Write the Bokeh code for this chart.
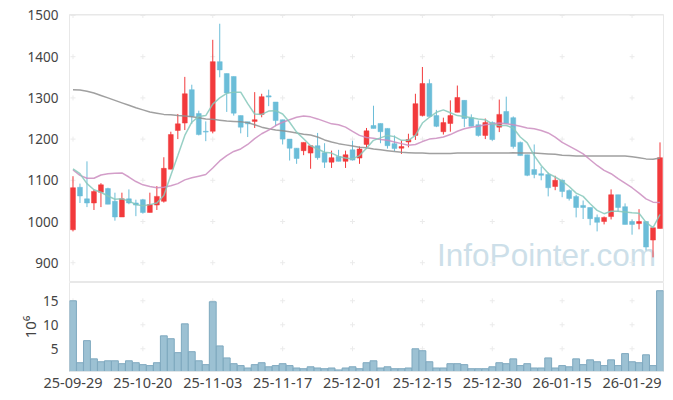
from bokeh.embed import file_html
from bokeh.layouts import column
from bokeh.models import FixedTicker, Label, Range1d, Span
from bokeh.plotting import figure
from bokeh.resources import INLINE

## Data

tick_index = [0, 10, 20, 30, 40, 50, 60, 70, 80]
tick_dates = ["25-09-29", "25-10-20", "25-11-03", "25-11-17", "25-12-01",
              "25-12-15", "25-12-30", "26-01-15", "26-01-29"]
price_ticks = [900, 1000, 1100, 1200, 1300, 1400, 1500]
volume_ticks = [5, 10, 15]

opens = [980, 1083, 1055, 1045, 1071, 1080, 1049, 1011, 1055, 1045,
         1053, 1022, 1040, 1049, 1127, 1221, 1239, 1320, 1262, 1219,
         1219, 1388, 1359, 1352, 1257, 1242, 1243, 1260, 1305, 1290,
         1247, 1200, 1178, 1172, 1166, 1184, 1167, 1144, 1158, 1146,
         1174, 1154, 1187, 1233, 1238, 1226, 1189, 1178, 1193, 1209,
         1257, 1335, 1257, 1218, 1238, 1265, 1294, 1252, 1235, 1209,
         1240, 1229, 1267, 1252, 1192, 1162, 1126, 1116, 1114, 1085,
         1100, 1075, 1061, 1039, 1034, 1010, 1000, 1012, 1065, 1036,
         1000, 995, 1000, 955, 983]
closes = [1082, 1062, 1045, 1073, 1089, 1042, 1011, 1055, 1045, 1040,
          1022, 1041, 1061, 1129, 1211, 1237, 1310, 1255, 1211, 1217,
          1388, 1368, 1312, 1263, 1229, 1237, 1247, 1303, 1302, 1245,
          1200, 1178, 1153, 1192, 1184, 1155, 1144, 1155, 1146, 1162,
          1149, 1176, 1220, 1226, 1218, 1184, 1177, 1182, 1199, 1286,
          1335, 1255, 1231, 1240, 1257, 1301, 1250, 1231, 1209, 1240,
          1199, 1260, 1238, 1182, 1160, 1112, 1114, 1112, 1082, 1100,
          1073, 1056, 1034, 1034, 1007, 998, 1010, 1065, 1034, 993,
          993, 1000, 938, 985, 1155]
highs = [1110, 1092, 1146, 1077, 1093, 1082, 1070, 1070, 1078, 1053,
         1055, 1070, 1086, 1156, 1218, 1261, 1351, 1332, 1269, 1243,
         1441, 1480, 1359, 1352, 1257, 1242, 1314, 1310, 1320, 1290,
         1247, 1200, 1178, 1192, 1184, 1215, 1190, 1172, 1174, 1172,
         1196, 1182, 1227, 1281, 1238, 1226, 1209, 1197, 1213, 1310,
         1375, 1345, 1271, 1252, 1294, 1330, 1294, 1260, 1245, 1250,
         1243, 1296, 1303, 1255, 1194, 1162, 1187, 1133, 1119, 1111,
         1102, 1078, 1065, 1051, 1034, 1017, 1012, 1078, 1065, 1044,
         1005, 1030, 1000, 985, 1192]
lows = [976, 1045, 1035, 1028, 1035, 1042, 1002, 1011, 1042, 1013,
        1019, 1022, 1028, 1046, 1127, 1200, 1222, 1237, 1209, 1195,
        1214, 1350, 1266, 1257, 1214, 1205, 1227, 1253, 1280, 1231,
        1187, 1148, 1140, 1161, 1128, 1150, 1130, 1130, 1146, 1130,
        1148, 1140, 1177, 1226, 1190, 1177, 1171, 1164, 1180, 1198,
        1255, 1255, 1229, 1211, 1218, 1265, 1229, 1231, 1206, 1200,
        1196, 1217, 1238, 1177, 1160, 1110, 1105, 1100, 1061, 1076,
        1059, 1051, 1010, 1006, 991, 976, 993, 1005, 1024, 993,
        968, 981, 930, 913, 983]

ma_teal = [1128, 1116, 1092, 1077, 1071, 1062, 1054, 1055, 1050, 1041,
           1038, 1041, 1045, 1063, 1112, 1160, 1209, 1241, 1255, 1257,
           1285, 1300, 1311, 1314, 1314, 1286, 1261, 1260, 1268, 1269,
           1261, 1241, 1217, 1201, 1184, 1176, 1168, 1166, 1158, 1154,
           1152, 1160, 1178, 1197, 1203, 1209, 1206, 1197, 1197, 1209,
           1239, 1253, 1265, 1271, 1264, 1257, 1255, 1252, 1249, 1247,
           1237, 1233, 1233, 1227, 1205, 1191, 1160, 1136, 1117, 1108,
           1098, 1085, 1069, 1061, 1043, 1027, 1019, 1025, 1025, 1023,
           1021, 1020, 998, 985, 1017]
ma_purple = [1125, 1112, 1105, 1105, 1113, 1116, 1117, 1118, 1108, 1097,
             1089, 1085, 1082, 1083, 1087, 1092, 1101, 1106, 1110, 1114,
             1130, 1147, 1160, 1170, 1176, 1187, 1201, 1213, 1222, 1233,
             1241, 1247, 1253, 1256, 1254, 1249, 1243, 1237, 1235, 1229,
             1219, 1209, 1204, 1202, 1199, 1197, 1193, 1189, 1185, 1187,
             1194, 1200, 1202, 1205, 1211, 1219, 1225, 1229, 1231, 1235,
             1237, 1239, 1237, 1235, 1231, 1227, 1225, 1221, 1215, 1205,
             1192, 1183, 1174, 1164, 1150, 1136, 1124, 1116, 1104, 1093,
             1082, 1069, 1055, 1047, 1046]
ma_gray = [1320, 1319, 1316, 1312, 1306, 1300, 1294, 1288, 1282, 1276,
           1271, 1266, 1263, 1260, 1259, 1257, 1256, 1254, 1252, 1249,
           1248, 1246, 1244, 1243, 1242, 1240, 1235, 1229, 1225, 1222,
           1220, 1218, 1215, 1212, 1210, 1205, 1198, 1193, 1189, 1186,
           1183, 1180, 1179, 1176, 1174, 1172, 1170, 1168, 1167, 1166,
           1166, 1165, 1165, 1165, 1165, 1166, 1166, 1166, 1166, 1166,
           1166, 1166, 1166, 1167, 1166, 1166, 1166, 1165, 1164, 1163,
           1161, 1160, 1159, 1159, 1159, 1159, 1159, 1159, 1159, 1159,
           1157, 1155, 1152, 1151, 1154]

volumes = [15.0, 2.1, 6.7, 2.9, 2.3, 2.5, 2.5, 1.9, 2.5, 2.1,
           1.7, 1.5, 2.1, 7.7, 7.1, 4.2, 10.2, 4.4, 2.5, 1.7,
           14.8, 5.6, 3.1, 1.9, 1.5, 1.0, 1.7, 2.1, 1.25, 1.5,
           1.9, 1.5, 1.0, 0.85, 1.25, 1.0, 0.85, 1.0, 0.6, 1.0,
           1.25, 0.85, 2.1, 2.5, 1.0, 1.25, 0.85, 0.85, 1.0, 5.0,
           4.6, 2.3, 1.0, 1.0, 1.9, 1.9, 1.7, 0.85, 0.85, 0.85,
           1.25, 2.1, 1.9, 2.9, 1.5, 1.9, 1.0, 1.0, 3.1, 1.0,
           1.5, 1.25, 2.9, 1.7, 2.7, 2.3, 1.5, 2.7, 1.5, 4.0,
           2.3, 2.1, 3.75, 1.5, 17.1]

RED = "#f23a3c"
BLUE = "#6bbdd8"
FONT = "Noto Sans"
FRAME = "#e8e8e8"
GRID_MARK = "#ebebeb"

index = list(range(len(closes)))
x_range = Range1d(-0.5, 84.5)


def style_axes(plot, y_ticks):
    plot.grid.visible = False
    plot.outline_line_color = FRAME
    plot.outline_line_width = 1
    plot.yaxis.ticker = FixedTicker(ticks=y_ticks)
    plot.yaxis.major_tick_line_color = None
    plot.yaxis.minor_tick_line_color = None
    plot.yaxis.axis_line_color = None
    plot.yaxis.major_label_text_font = FONT
    plot.yaxis.major_label_text_font_size = "13.5px"
    plot.yaxis.major_label_text_color = "#444444"
    plot.yaxis.major_label_standoff = 5
    # small + marks where the grid lines would cross
    xs = [t for t in tick_index for _ in y_ticks]
    ys = [v for _ in tick_index for v in y_ticks]
    plot.scatter(xs, ys, marker="cross", size=5, line_color=GRID_MARK, line_width=1)


## Price pane

price = figure(width=665, height=282, x_range=x_range, y_range=Range1d(852, 1502.4),
               output_backend="svg", toolbar_location=None,
               min_border_left=69, min_border_right=2, min_border_top=14, min_border_bottom=0)
price.xaxis.visible = False
style_axes(price, price_ticks)
price.add_layout(Label(x=52.1, y=874, text="InfoPointer.com", text_font="Liberation Sans",
                       text_font_size="31.5px", text_color="#cddfe9", level="underlay"))
price.add_layout(Span(location=1502.4, dimension="width", line_color=FRAME, line_width=2))

colors = [RED if c >= o else BLUE for o, c in zip(opens, closes)]
price.segment(index, lows, index, highs, line_color=colors, line_width=1)
price.vbar(index, width=0.7, bottom=opens, top=closes, fill_color=colors, line_color=colors,
           line_width=0.5)
price.line(index, ma_gray, line_color="#8f8f8f", line_width=1.5, line_alpha=0.85)
price.line(index, ma_purple, line_color="#cb8dbf", line_width=1.5, line_alpha=0.85)
price.line(index, ma_teal, line_color="#86c8bb", line_width=1.5, line_alpha=0.85)

## Volume pane

volume = figure(width=665, height=110, x_range=x_range, y_range=Range1d(0.27, 18.81),
                output_backend="svg", toolbar_location=None,
                min_border_left=69, min_border_right=2, min_border_top=0, min_border_bottom=21)
style_axes(volume, volume_ticks)
volume.yaxis.axis_label = "10⁶"
volume.yaxis.axis_label_text_font = FONT
volume.yaxis.axis_label_text_font_size = "15px"
volume.yaxis.axis_label_text_font_style = "normal"
volume.yaxis.axis_label_text_color = "#444444"
volume.yaxis.axis_label_standoff = 0
volume.xaxis.ticker = FixedTicker(ticks=tick_index)
volume.xaxis.major_label_overrides = dict(zip(tick_index, tick_dates))
volume.xaxis.major_tick_line_color = None
volume.xaxis.minor_tick_line_color = None
volume.xaxis.axis_line_color = "#dfe5e8"
volume.xaxis.major_label_text_font = FONT
volume.xaxis.major_label_text_font_size = "14.5px"
volume.xaxis.major_label_text_color = "#444444"
volume.xaxis.major_label_standoff = 0
volume.vbar(index, width=0.98, bottom=0, top=volumes, fill_color="#9cc1d3",
            line_color="#7fa9bf", line_width=1)

p = column(price, volume, spacing=0)
open("out.html", "w").write(file_html(p, INLINE))
